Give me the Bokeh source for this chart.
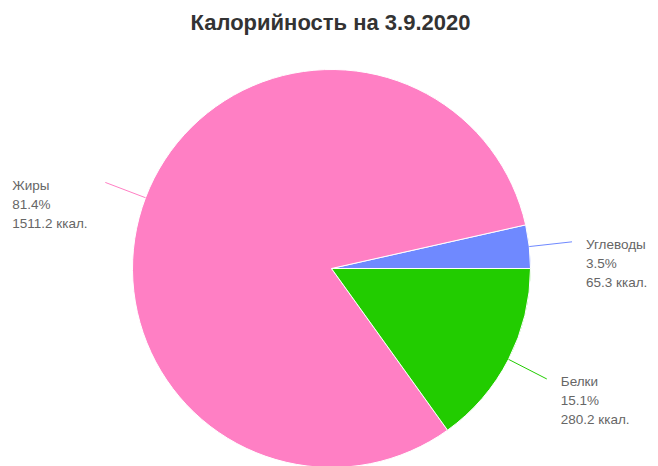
import numpy as np
from bokeh.plotting import figure
from bokeh.models import Range1d, ColumnDataSource
from bokeh.embed import file_html
from bokeh.resources import INLINE
from bokeh.core.properties import value

title_text = "Калорийность на 3.9.2020"
categories = ["Углеводы", "Жиры", "Белки"]
kcal = [65.3, 1511.2, 280.2]
colors = ["#6f89ff", "#ff7fc4", "#22cc00"]

vals = np.array(kcal)
frac = vals / vals.sum()
ends = np.cumsum(frac) * 2 * np.pi
starts = ends - frac * 2 * np.pi
mids = (starts + ends) / 2

R = 199
R_CONN = 242

p = figure(width=650, height=466, x_range=Range1d(-331, 319), y_range=Range1d(-198, 268),
           output_backend="svg", toolbar_location=None, min_border=0)
p.axis.visible = False
p.grid.visible = False
p.outline_line_color = None
p.background_fill_color = "white"

src = ColumnDataSource(dict(start=starts, end=ends, color=colors))
p.wedge(x=0, y=0, radius=R, start_angle="start", end_angle="end", fill_color="color",
        line_color="white", line_width=1, source=src)

# connectors
cx0 = R * np.cos(mids)
cy0 = R * np.sin(mids)
cx1 = R_CONN * np.cos(mids)
cy1 = R_CONN * np.sin(mids)
p.segment(x0=cx0, y0=cy0, x1=cx1, y1=cy1, line_color=colors, line_width=1)

# labels
lx, ly, lt = [], [], []
for i, cat in enumerate(categories):
    right = np.cos(mids[i]) > 0
    x = cx1[i] + 14 if right else cx1[i] - 93
    lines = [cat, f"{frac[i]*100:.1f}%", f"{kcal[i]:.1f} ккал."]
    for j, t in enumerate(lines):
        lx.append(x)
        ly.append(cy1[i] - 3 - j * 19)
        lt.append(t)
p.text(x=lx, y=ly, text=lt, text_align="left", text_baseline="middle",
       text_font=value("Liberation Sans"), text_font_size="13.5px", text_color="#666666")

p.text(x=[-1], y=[246], text=[title_text], text_align="center", text_baseline="middle",
       text_font=value("Liberation Sans"), text_font_style="bold", text_font_size="22px",
       text_color="#333333")

open("out.html", "w").write(file_html(p, INLINE))
